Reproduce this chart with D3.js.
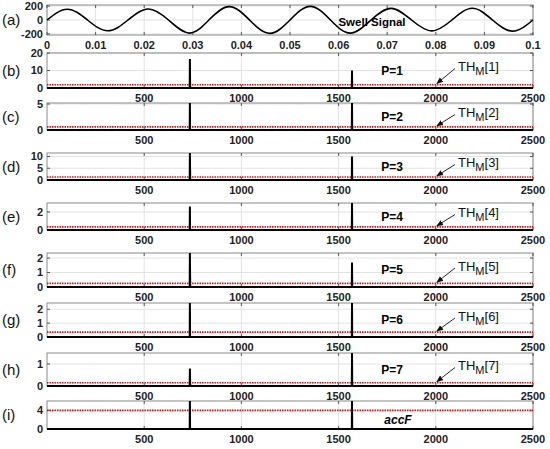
<!DOCTYPE html>
<html>
<head>
<meta charset="utf-8">
<script src="https://d3js.org/d3.v7.min.js"></script>
<style>
  html, body { margin: 0; padding: 0; background: #fff; }
  svg { display: block; font-family: "Liberation Sans", Arial, sans-serif; }
</style>
</head>
<body>
<svg width="550" height="449"></svg>
<script>
// --- panel (a): swell signal, read at quarter periods ---
const sigT = [0, .00417, .00833, .0125, .01667, .02083, .025, .0293, .0333, .0375, .04167, .04583,
              .05, .05417, .05833, .0624, .06667, .07083, .075, .07917, .08333, .0875, .09167, .09583, .1];
const sigV = [0, 155, 0, -155, 0, 158, 0, -188, 0, 192, 0, -192,
              0, 196, 0, -188, 0, 166, 0, -156, 0, 168, 0, -160, 0];
const sigXTicks = [0, .01, .02, .03, .04, .05, .06, .07, .08, .09, .1];
const sigYTicks = [-200, 0, 200];

// --- panels (b)..(i): feature per sample ---
const panelNames = ["(b)", "(c)", "(d)", "(e)", "(f)", "(g)", "(h)", "(i)"];
const panelTags = ["P=1", "P=2", "P=3", "P=4", "P=5", "P=6", "P=7", "accF"];
const yMax = [20, 5.2, 11.5, 3, 2.35, 2.45, 1.5, 6];
const yTicks = [[0, 10, 20], [0, 5], [0, 5, 10], [0, 2], [0, 1, 2], [0, 1, 2], [0, 1], [0, 4]];
const thresholds = [1.9, 0.6, 1.3, 0.35, 0.25, 0.35, 0.15, 4];
const eventIdx = [735, 1569];
const peakStart = [16.5, 5.2, 11.5, 2.6, 2.35, 2.45, 0.8, 6];
const shoulderStart = [4, 0, 5, 0, 0.9, 0, 0.3, 0];
const peakEnd = [10, 5.2, 10, 3, 1.7, 2.45, 1.5, 6];
const shoulderEnd = [0, 0, 0, 0, 0, 0, 0.2, 0];
const sampleTicks = [500, 1000, 1500, 2000, 2500];
const nSamples = 2500;

// layout
const left = 47, right = 533;
const sigTop = 5, sigBottom = 35;
const panelTop = [53, 103, 153, 203, 253, 303, 353, 401];
const panelBottom = [88, 130, 180, 230, 287, 337, 386, 429];

const svg = d3.select("svg");
const defs = svg.append("defs");
defs.append("marker")
    .attr("id", "arr")
    .attr("viewBox", "0 0 10 10")
    .attr("refX", 9).attr("refY", 5)
    .attr("markerWidth", 7).attr("markerHeight", 7)
    .attr("markerUnits", "userSpaceOnUse")
    .attr("orient", "auto")
    .append("path").attr("d", "M0,1L10,5L0,9z").attr("fill", "#111");

// draws grid, box, ticks and labels for one axes
function drawAxes(g, x, y, xt, yt, xfmt, yfmt) {
    const [y0, y1] = y.range();
    g.append("g").selectAll("line").data(xt).join("line")
        .attr("x1", d => x(d)).attr("x2", d => x(d))
        .attr("y1", y1).attr("y2", y0)
        .attr("stroke", "#e3e3e3");
    g.append("g").selectAll("line").data(yt).join("line")
        .attr("x1", left).attr("x2", right)
        .attr("y1", d => y(d)).attr("y2", d => y(d))
        .attr("stroke", "#e3e3e3");
    g.append("rect")
        .attr("x", left).attr("y", y1)
        .attr("width", right - left).attr("height", y0 - y1)
        .attr("fill", "none").attr("stroke", "#8a8a8a");
    // inward ticks on all sides
    xt.forEach(d => {
        g.append("line").attr("x1", x(d)).attr("x2", x(d)).attr("y1", y0).attr("y2", y0 - 3).attr("stroke", "#555");
        g.append("line").attr("x1", x(d)).attr("x2", x(d)).attr("y1", y1).attr("y2", y1 + 3).attr("stroke", "#555");
    });
    yt.forEach(d => {
        g.append("line").attr("x1", left).attr("x2", left + 3).attr("y1", y(d)).attr("y2", y(d)).attr("stroke", "#555");
        g.append("line").attr("x1", right).attr("x2", right - 3).attr("y1", y(d)).attr("y2", y(d)).attr("stroke", "#555");
    });
    g.append("g").selectAll("text").data(xt).join("text")
        .attr("x", d => x(d)).attr("y", y0 + 14)
        .attr("text-anchor", "middle")
        .attr("font-size", 11).attr("font-weight", "bold").attr("fill", "#222")
        .text(xfmt);
    g.append("g").selectAll("text").data(yt).join("text")
        .attr("x", left - 4).attr("y", d => y(d)).attr("dy", "0.35em")
        .attr("text-anchor", "end")
        .attr("font-size", 11).attr("font-weight", "bold").attr("fill", "#222")
        .text(yfmt);
}

// panel (a)
{
    const g = svg.append("g");
    const x = d3.scaleLinear().domain([0, 0.1]).range([left, right]);
    const y = d3.scaleLinear().domain([-215, 215]).range([sigBottom, sigTop]);
    drawAxes(g, x, y, sigXTicks, sigYTicks, d => d3.format("")(d), d => d);
    const line = d3.line().x(d => x(d[0])).y(d => y(d[1])).curve(d3.curveNatural);
    g.append("path")
        .datum(sigT.map((t, i) => [t, sigV[i]]))
        .attr("d", line)
        .attr("fill", "none").attr("stroke", "#000").attr("stroke-width", 1.6);
    g.append("text").attr("x", 372).attr("y", 22).attr("dy", "0.35em")
        .attr("text-anchor", "middle").attr("font-size", 11.5).attr("font-weight", "bold")
        .text("Swell Signal");
    g.append("text").attr("x", 2).attr("y", 20).attr("dy", "0.35em")
        .attr("font-size", 15).attr("fill", "#111").text("(a)");
}

// panels (b)..(i)
panelNames.forEach((name, i) => {
    const g = svg.append("g");
    const x = d3.scaleLinear().domain([0, nSamples]).range([left, right]);
    const y = d3.scaleLinear().domain([0, yMax[i]]).range([panelBottom[i], panelTop[i]]);
    drawAxes(g, x, y, sampleTicks, yTicks[i], d => d, d => d);

    const cid = "clip" + i;
    defs.append("clipPath").attr("id", cid).append("rect")
        .attr("x", left).attr("y", panelTop[i])
        .attr("width", right - left).attr("height", panelBottom[i] - panelTop[i] + 2);

    // threshold
    g.append("line")
        .attr("x1", left).attr("x2", right)
        .attr("y1", y(thresholds[i])).attr("y2", y(thresholds[i]))
        .attr("stroke", "#e01010").attr("stroke-width", 1.6)
        .attr("stroke-dasharray", "1.5,1");

    const e0 = eventIdx[0], e1 = eventIdx[1];
    const pts = [[0, 0], [e0 - 1, 0], [e0, peakStart[i]], [e0 + 1, shoulderStart[i]], [e0 + 2, 0],
                 [e1 - 1, 0], [e1, peakEnd[i]], [e1 + 1, shoulderEnd[i]], [e1 + 2, 0], [nSamples, 0]];
    g.append("path")
        .datum(pts)
        .attr("clip-path", `url(#${cid})`)
        .attr("d", d3.line().x(d => x(d[0])).y(d => y(d[1])))
        .attr("fill", "none").attr("stroke", "#000").attr("stroke-width", 2);

    const mid = (panelTop[i] + panelBottom[i]) / 2;
    g.append("text").attr("x", 2).attr("y", mid).attr("dy", "0.35em")
        .attr("font-size", 15).attr("fill", "#111").text(name);

    const isAcc = panelTags[i] === "accF";
    g.append("text")
        .attr("x", isAcc ? 398 : 392).attr("y", isAcc ? mid + 5 : mid)
        .attr("dy", "0.35em").attr("text-anchor", "middle")
        .attr("font-size", 12).attr("font-weight", "bold")
        .attr("font-style", isAcc ? "italic" : null)
        .text(panelTags[i]);

    if (!isAcc) {
        const tx = 458, ty = mid - 4;
        const t = g.append("text").attr("x", tx).attr("y", ty).attr("dy", "0.35em")
            .attr("font-size", 13).attr("fill", "#111");
        t.append("tspan").text("TH");
        t.append("tspan").attr("font-size", 11).attr("dy", "4").text("M");
        t.append("tspan").attr("dy", "-4").text(`[${i + 1}]`);
        g.append("line")
            .attr("x1", tx - 3).attr("y1", ty + 2)
            .attr("x2", x(2000) + 1).attr("y2", y(thresholds[i]) - 1)
            .attr("stroke", "#111").attr("stroke-width", 0.9)
            .attr("marker-end", "url(#arr)");
    }
});
</script>
</body>
</html>
